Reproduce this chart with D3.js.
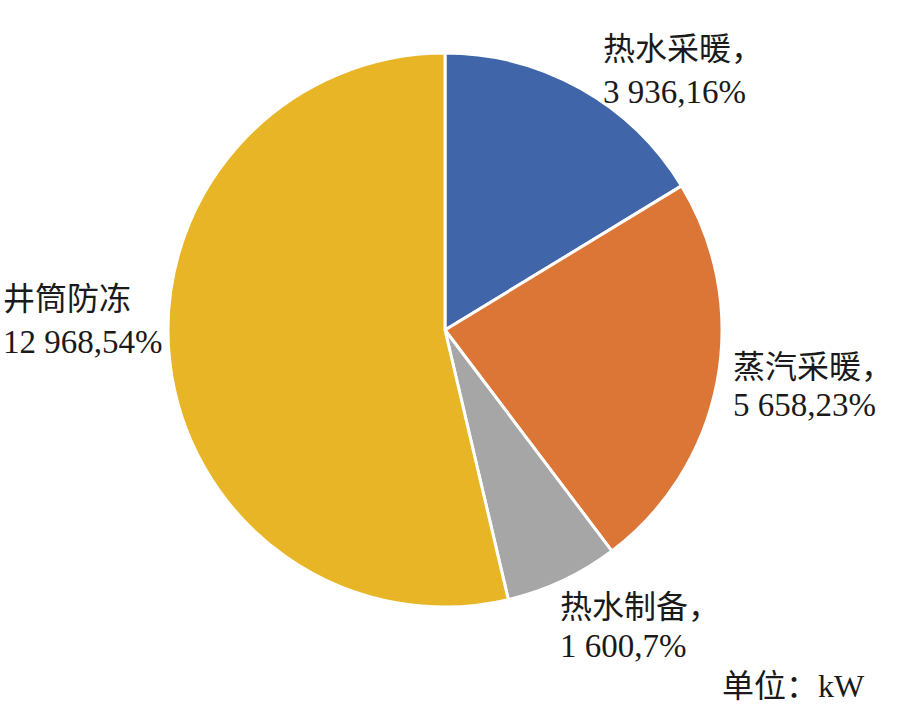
<!DOCTYPE html>
<html><head><meta charset="utf-8">
<script src="https://cdn.jsdelivr.net/npm/d3@7"></script>
<style>body{margin:0;background:#fff}svg{display:block}</style>
</head><body>
<svg id="c" width="898" height="722"></svg>
<script>
const categories = ["热水采暖", "蒸汽采暖", "热水制备", "井筒防冻"];
const values = [3936, 5658, 1600, 12968];
const percents = ["16%", "23%", "7%", "54%"];
const valueLabels = ["3 936", "5 658", "1 600", "12 968"];
const colors = ["#4066A9", "#DC7636", "#A6A6A6", "#E8B526"];
const unitLabel = "单位：kW";

const W = 898, H = 722, cx = 445, cy = 330, R = 277;
const svg = d3.select("#c");
const pie = d3.pie().sort(null).value(d => d)(values);
const arc = d3.arc().innerRadius(0).outerRadius(R);
const g = svg.append("g").attr("transform", `translate(${cx},${cy})`);
g.selectAll("path").data(pie).join("path")
  .attr("d", arc)
  .attr("fill", (d, i) => colors[i])
  .attr("stroke", "#fff").attr("stroke-width", 3).attr("stroke-linejoin", "round");

// label layout (positions, not data)
const labelLayout = [
  {x: 603, y1: 60, y2: 103, comma: true},
  {x: 733, y1: 378, y2: 416, comma: true},
  {x: 560, y1: 618, y2: 657, comma: true},
  {x: 3, y1: 310, y2: 353, comma: false}
];
const font = "'Liberation Serif','Times New Roman','Noto Sans CJK SC',serif";
categories.forEach((c, i) => {
  const L = labelLayout[i];
  const t = svg.append("text").attr("font-family", font).attr("font-size", 32).attr("fill", "#1a1a1a");
  t.append("tspan").attr("x", L.x).attr("y", L.y1).text(c + (L.comma ? "，" : ""));
  t.append("tspan").attr("x", L.x).attr("y", L.y2).attr("font-size", 33).text(valueLabels[i] + "," + percents[i]);
});
svg.append("text").attr("x", 722).attr("y", 697).attr("font-family", font)
  .attr("font-size", 32).attr("fill", "#1a1a1a").text(unitLabel);
</script>
</body></html>
